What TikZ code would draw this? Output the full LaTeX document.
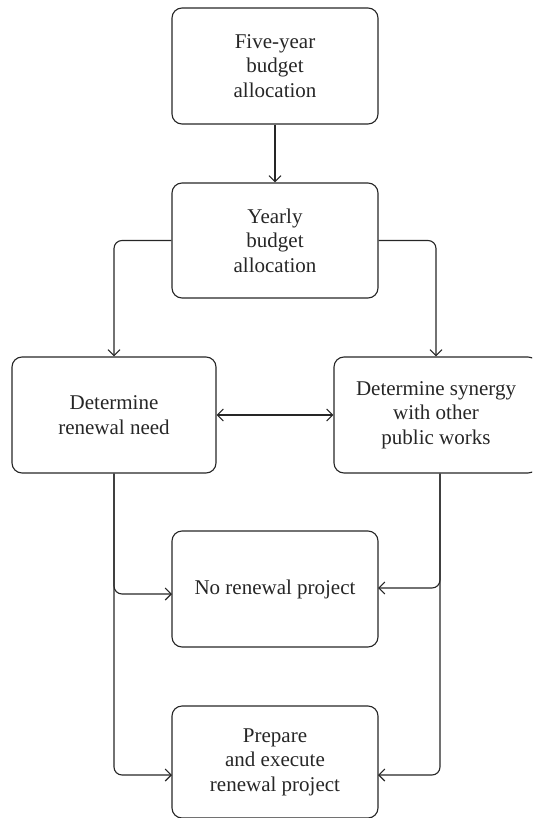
\documentclass[tikz,border=0pt]{standalone}
\usepackage{fontspec}
\setmainfont{Liberation Serif}
\usetikzlibrary{arrows.meta}
\tikzset{
  box/.style={draw=black!85, line width=1.1pt, rounded corners=10pt, align=center,
    font=\fontsize{21}{24.5}\selectfont, text=black!85, inner sep=0pt},
  arr/.style={draw=black!85, line width=1.1pt, -{Straight Barb[length=6pt,width=12pt]}},
  darr/.style={draw=black!85, line width=1.1pt, {Straight Barb[length=6pt,width=12pt]}-{Straight Barb[length=6pt,width=12pt]}},
  lnk/.style={rounded corners=8pt}
}
\begin{document}
\begin{tikzpicture}[x=1pt,y=-1pt]
\useasboundingbox (0,0) rectangle (532,818);
\clip (0,0) rectangle (532,818);
\node[box, minimum width=206pt, minimum height=116pt] (A) at (275,66) {Five-year\\budget\\allocation};
\node[box, minimum width=206pt, minimum height=115pt] (B) at (275,240.5) {Yearly\\budget\\allocation};
\node[box, minimum width=204pt, minimum height=116pt] (C) at (114,415) {Determine\\renewal need};
\node[box, minimum width=204pt, minimum height=116pt] (D) at (436,415) {Determine synergy\\with other\\public works};
\node[box, minimum width=206pt, minimum height=116pt] (E) at (275,589) {No renewal project};
\node[box, minimum width=206pt, minimum height=112pt] (F) at (275,762) {Prepare\\and execute\\renewal project};
\coordinate (eL) at (172,594);
\coordinate (eR) at (378,588);
\coordinate (fL) at (172,775);
\coordinate (fR) at (378,775);
\draw[arr] (A) -- (B);
\draw[arr,lnk] (B.west) -| (C.north);
\draw[arr,lnk] (B.east) -| (D.north);
\draw[darr] (C) -- (D);
\draw[arr,lnk] (C.south) |- (eL);
\draw[arr,lnk] (C.south) |- (fL);
\draw[arr,lnk] ([xshift=4pt]D.south) |- (eR);
\draw[arr,lnk] ([xshift=4pt]D.south) |- (fR);
\end{tikzpicture}
\end{document}
